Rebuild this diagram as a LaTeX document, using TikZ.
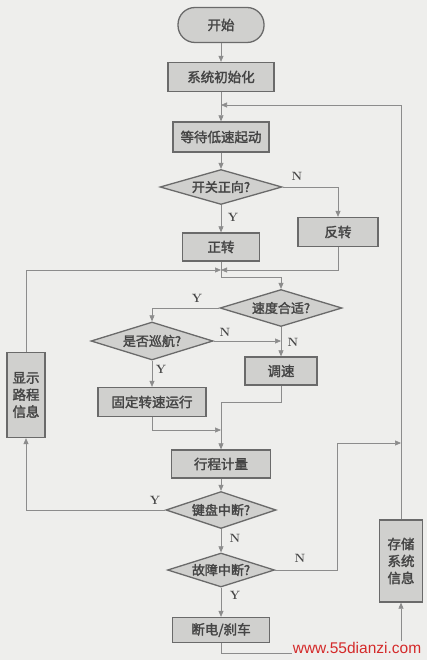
\documentclass[tikz,border=0pt]{standalone}
\usepackage{fontspec}
\newfontfamily\cjk[FakeBold=2]{Noto Sans CJK SC}
\newfontfamily\wmfont{Liberation Sans}
\usetikzlibrary{shapes.geometric,arrows.meta}
\definecolor{bg}{HTML}{EEEEEC}
\definecolor{boxfill}{HTML}{D0D0CE}
\definecolor{boxline}{HTML}{6A6A6A}
\definecolor{ln}{HTML}{8C8C8C}
\definecolor{txt}{HTML}{454545}
\definecolor{wm}{HTML}{D42A2A}
\begin{document}
\begin{tikzpicture}[x=1pt,y=-1pt,
  box/.style={draw=boxline, line width=1.3pt, fill=boxfill, text=txt,
    font=\cjk\fontsize{13.5}{17}\selectfont, inner sep=1pt, align=center},
  term/.style={box, rounded corners=17pt},
  dia/.style={diamond, shape aspect=3.2, draw=boxline, line width=1.3pt, fill=boxfill,
    text=txt, font=\cjk\fontsize{13}{15}\selectfont, inner sep=0pt},
  lbl/.style={text=txt, font=\bfseries\fontsize{12}{13}\selectfont, inner sep=0pt},
  ln/.style={draw=ln, line width=0.6pt},
  arr/.style={ln, -{Triangle[length=6pt,width=5pt]}}]
\fill[bg] (0,0) rectangle (427,660);
\useasboundingbox (0,0) rectangle (427,660);

% nodes
\node[term, minimum width=86, minimum height=35] (start) at (221,25) {开始};
\node[box, minimum width=106, minimum height=29] (init) at (221,77) {系统初始化};
\node[box, minimum width=96, minimum height=30] (wait) at (221,137) {等待低速起动};
\node[dia, minimum width=122, minimum height=35] (sw) at (221,187) {开关正向?};
\node[box, minimum width=80, minimum height=29] (rev) at (338,232) {反转};
\node[box, minimum width=77, minimum height=28] (fwd) at (221,247) {正转};
\coordinate (m1) at (221,270);
\coordinate (m2) at (221,277);
\node[dia, minimum width=122, minimum height=37] (speed) at (281,308) {速度合适?};
\node[dia, minimum width=122, minimum height=38] (cruise) at (152,341) {是否巡航?};
\node[box, minimum width=72, minimum height=28] (tune) at (281,371) {调速};
\node[box, minimum width=108, minimum height=29] (fixed) at (152,402) {固定转速运行};
\coordinate (j2) at (221,430);
\coordinate (j4) at (221,402);
\node[box, minimum width=99, minimum height=28] (trip) at (221,464) {行程计量};
\node[dia, minimum width=110, minimum height=37] (kb) at (221,510) {键盘中断?};
\node[dia, minimum width=107, minimum height=34] (fault) at (221,570) {故障中断?};
\node[box, minimum width=97, minimum height=25] (stop) at (221,630) {断电/刹车};
\node[box, minimum width=38, minimum height=85] (disp) at (26,395) {显示\\路程\\信息};
\node[box, minimum width=43, minimum height=82] (store) at (401,561) {存储\\系统\\信息};
\coordinate (top) at (401,105);
\coordinate (topend) at (221,105);
\coordinate (k1) at (337,443);
\coordinate (k2) at (401,443);
\coordinate (b2) at (401,653);

% connectors
\draw[arr] (start) -- (init);
\draw[arr] (init) -- (wait);
\draw[arr] (store.north) -- (top) -- (topend);
\draw[arr] (wait) -- (sw);
\draw[arr] (sw.east) -| (rev.north);
\node[lbl] (ln1) at (297,176) {N};
\draw[arr] (sw.south) -- (fwd.north);
\node[lbl] (ly1) at (233,217) {Y};
\draw[ln] (fwd.south) -- (m1);
\draw[arr] (rev.south) |- (m1);
\draw[arr] (disp.north) |- (m1);
\draw[arr] (m1) -- (m2) -| (speed.north);
\draw[arr] (speed.west) -| (cruise.north);
\node[lbl] (ly2) at (197,298) {Y};
\draw[arr] (speed.south) -- (tune.north);
\node[lbl] (ln2) at (293,342) {N};
\draw[arr] (cruise.east) -- (cruise.east -| tune.north);
\node[lbl] (ln3) at (225,332) {N};
\draw[arr] (cruise.south) -- (fixed.north);
\node[lbl] (ly3) at (161,369) {Y};
\draw[arr] (fixed.south) |- (j2);
\draw[arr] (tune.south) |- (j4) -- (trip.north);
\draw[arr] (trip) -- (kb);
\draw[arr] (kb.west) -| (disp.south);
\node[lbl] (ly4) at (155,500) {Y};
\draw[arr] (kb.south) -- (fault.north);
\node[lbl] (ln4) at (235,538) {N};
\draw[arr] (fault.east) -| (k1) -- (k2);
\node[lbl] (ln5) at (300,558) {N};
\draw[arr] (fault.south) -- (stop.north);
\node[lbl] (ly5) at (235,595) {Y};
\draw[arr] (stop.south) |- (b2) -- (store.south);

% watermark
\node[fill=bg, text=wm, font=\wmfont\fontsize{15.5}{17}\selectfont, inner sep=1pt] (wmk) at (357,648) {www.55dianzi.com};
\end{tikzpicture}
\end{document}
